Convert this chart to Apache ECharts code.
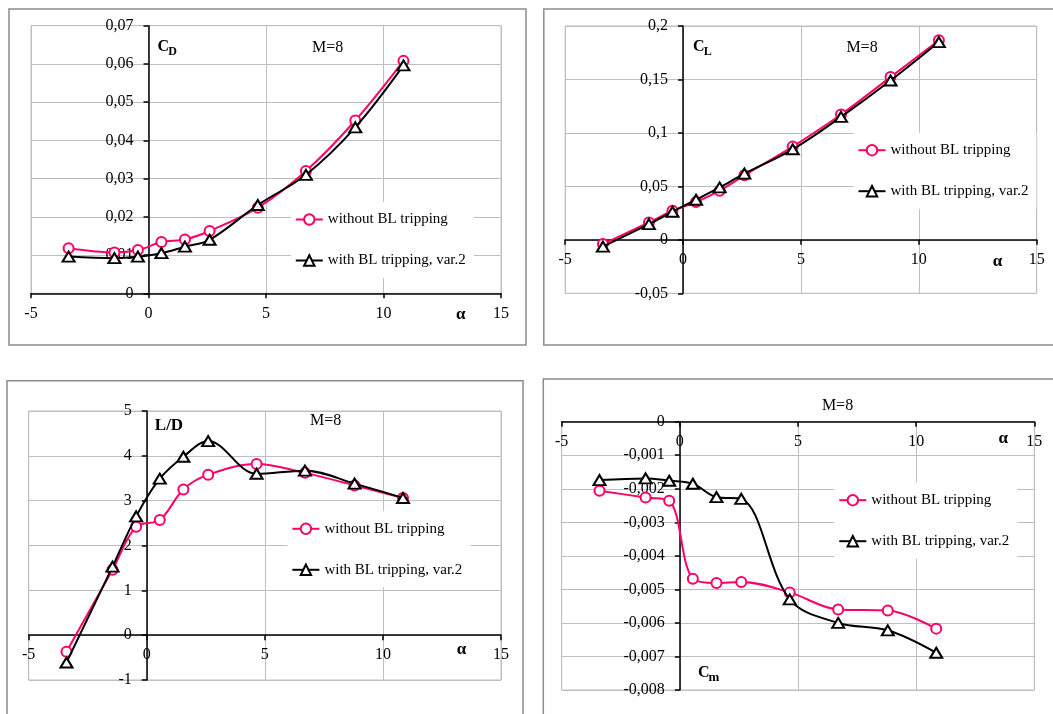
<!DOCTYPE html>
<html><head><meta charset="utf-8">
<script src="https://cdn.jsdelivr.net/npm/echarts@6/dist/echarts.min.js"></script>
<style>html,body{margin:0;padding:0;background:#fff}#c{width:1053px;height:714px}</style>
</head><body><div id="c"></div>
<script>
// ---- data ----
const alpha = [-3.4, -1.45, -0.45, 0.55, 1.55, 2.6, 4.65, 6.7, 8.8, 10.85];
const seriesNames = ['without BL tripping', 'with BL tripping, var.2'];
const cdWithout = [0.0118, 0.0107, 0.0113, 0.0134, 0.0141, 0.0163, 0.0224, 0.0320, 0.0452, 0.0608];
const cdWith    = [0.0096, 0.0092, 0.0096, 0.0105, 0.0122, 0.0140, 0.0231, 0.0310, 0.0434, 0.0596];
const clWithout = [-0.0040, 0.0162, 0.0272, 0.0353, 0.0460, 0.0603, 0.0872, 0.1172, 0.1522, 0.1866];
const clWith    = [-0.0063, 0.0147, 0.0263, 0.0375, 0.0490, 0.0619, 0.0847, 0.1150, 0.1490, 0.1850];
const ldWithout = [-0.37, 1.46, 2.42, 2.57, 3.25, 3.58, 3.82, 3.62, 3.34, 3.06];
const ldWith    = [-0.61, 1.53, 2.65, 3.49, 3.98, 4.33, 3.60, 3.67, 3.38, 3.06];
const cmWithout = [-0.00206, -0.00226, -0.00236, -0.00468, -0.00481, -0.00478, -0.00509, -0.00560, -0.00563, -0.00617];
const cmWith    = [-0.00174, -0.00169, -0.00176, -0.00185, -0.00225, -0.00230, -0.00530, -0.00600, -0.00622, -0.00689];
const xRange = {min: -5, max: 15, interval: 5};
const yRanges = [
  {min: 0, max: 0.07, interval: 0.01, dec: 3},
  {min: -0.05, max: 0.2, interval: 0.05, dec: 3},
  {min: -1, max: 5, interval: 1, dec: 1},
  {min: -0.008, max: 0, interval: 0.001, dec: 4}
];
const panelData = [[cdWithout, cdWith], [clWithout, clWith], [ldWithout, ldWith], [cmWithout, cmWith]];

// ---- layout / style ----
const FONT = 'Liberation Serif';
const PINK = '#ff0066';
const GRIDC = '#bfbfbf';
const grids = [
  {left: 31, top: 25.7, width: 470, height: 267.6},
  {left: 565.2, top: 26, width: 471.5, height: 267.3},
  {left: 28.7, top: 411, width: 472.3, height: 269},
  {left: 561.7, top: 421.7, width: 472.6, height: 268.3}
];
const legendPos = [
  {left: 290.8, top: 202},
  {left: 853.5, top: 132.7},
  {left: 287.4, top: 511.3},
  {left: 834.3, top: 482.7}
];

function fmt(dec) {
  return v => String(+(+v).toFixed(dec)).replace('.', ',');
}

const xAxes = [], yAxes = [], series = [], legends = [];
grids.forEach((g, i) => {
  const yr = yRanges[i];
  // axes cross at zero: shift each axis from the grid edge to the other axis' zero
  const xOff = -g.height * (0 - yr.min) / (yr.max - yr.min);
  const yOff = -g.width * (0 - xRange.min) / (xRange.max - xRange.min);
  xAxes.push({
    type: 'value', gridIndex: i, min: xRange.min, max: xRange.max, interval: xRange.interval,
    position: 'bottom', offset: xOff,
    axisLine: {onZero: false, lineStyle: {color: '#000', width: 1.5}},
    axisTick: {show: true, inside: false, length: 5, lineStyle: {color: '#000', width: 1.5}},
    axisLabel: {margin: 12, color: '#000', fontFamily: FONT, fontSize: 16, formatter: fmt(0)},
    splitLine: {show: true, lineStyle: {color: GRIDC, width: 1}}
  });
  yAxes.push({
    type: 'value', gridIndex: i, min: yr.min, max: yr.max, interval: yr.interval,
    position: 'left', offset: yOff,
    axisLine: {onZero: false, lineStyle: {color: '#000', width: 1.5}},
    axisTick: {show: true, inside: false, length: 5, lineStyle: {color: '#000', width: 1.5}},
    axisLabel: {margin: 15, color: '#000', fontFamily: FONT, fontSize: 16, formatter: fmt(yr.dec)},
    splitLine: {show: true, lineStyle: {color: GRIDC, width: 1}}
  });
  const [wo, wi] = panelData[i];
  series.push({
    type: 'line', name: seriesNames[0], xAxisIndex: i, yAxisIndex: i,
    data: alpha.map((a, k) => [a, wo[k]]),
    smooth: 0.35, symbol: 'circle', symbolSize: 10, z: 2,
    lineStyle: {color: PINK, width: 2},
    itemStyle: {color: '#fff', borderColor: PINK, borderWidth: 2},
    emphasis: {disabled: true}, animation: false
  });
  series.push({
    type: 'line', name: seriesNames[1], xAxisIndex: i, yAxisIndex: i,
    data: alpha.map((a, k) => [a, wi[k]]),
    smooth: 0.35, symbol: 'triangle', symbolSize: [12, 10], z: 3,
    lineStyle: {color: '#000', width: 2},
    itemStyle: {color: '#fff', borderColor: '#000', borderWidth: 2},
    emphasis: {disabled: true}, animation: false
  });
  legends.push({
    data: seriesNames, orient: 'vertical', left: legendPos[i].left, top: legendPos[i].top,
    itemWidth: 27, itemHeight: 13, itemGap: 26,
    padding: [10, 8, 10, 4], backgroundColor: '#fff',
    textStyle: {color: '#000', fontFamily: FONT, fontSize: 15},
    selectedMode: false
  });
});

function txt(x, y, text, font, align) {
  return {type: 'text', x: x, y: y, silent: true, z: 100,
    style: {text: text, font: font, fill: '#000', align: align || 'left', verticalAlign: 'middle'}};
}
const B16 = 'bold 16px "' + FONT + '"';
const B12 = 'bold 12px "' + FONT + '"';
const N16 = '16px "' + FONT + '"';
const A17 = 'bold 17px "' + FONT + '"';
const graphics = [
  {type: 'rect', shape: {x: 9, y: 9, width: 517, height: 336}, style: {fill: 'none', stroke: '#8c8c8c', lineWidth: 1.5}, silent: true},
  {type: 'rect', shape: {x: 543.8, y: 9, width: 530, height: 336}, style: {fill: 'none', stroke: '#8c8c8c', lineWidth: 1.5}, silent: true},
  {type: 'rect', shape: {x: 7, y: 380.7, width: 516, height: 400}, style: {fill: 'none', stroke: '#8c8c8c', lineWidth: 1.5}, silent: true},
  {type: 'rect', shape: {x: 543.3, y: 379, width: 530, height: 400}, style: {fill: 'none', stroke: '#8c8c8c', lineWidth: 1.5}, silent: true},
  // panel 1
  txt(157.5, 46.5, 'C', B16), txt(168.3, 51.5, 'D', B12),
  txt(327.6, 48, 'M=8', N16, 'center'),
  txt(460.8, 315, 'α', A17, 'center'),
  // panel 2
  txt(693, 47, 'C', B16), txt(703.8, 52, 'L', B12),
  txt(862, 48, 'M=8', N16, 'center'),
  txt(997.6, 261.7, 'α', A17, 'center'),
  // panel 3
  txt(154.8, 426, 'L/D', 'bold 17px "' + FONT + '"'),
  txt(325.6, 420.7, 'M=8', N16, 'center'),
  txt(461.5, 649.3, 'α', A17, 'center'),
  // panel 4
  txt(698, 673.3, 'C', B16), txt(708.5, 678, 'm', 'bold 13px "' + FONT + '"'),
  txt(837.5, 405.7, 'M=8', N16, 'center'),
  txt(1003.3, 438.3, 'α', A17, 'center')
];

const chart = echarts.init(document.getElementById('c'), null, {renderer: 'canvas'});
chart.setOption({
  animation: false,
  backgroundColor: '#fff',
  grid: grids.map(g => Object.assign({show: true, borderColor: GRIDC, borderWidth: 1, backgroundColor: 'transparent'}, g)),
  xAxis: xAxes,
  yAxis: yAxes,
  legend: legends,
  series: series,
  graphic: graphics
});
</script></body></html>
